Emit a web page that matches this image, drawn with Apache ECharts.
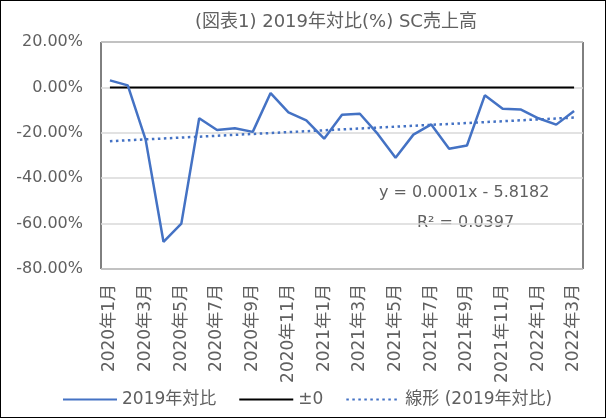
<!DOCTYPE html>
<html>
<head>
<meta charset="utf-8">
<script src="https://cdn.jsdelivr.net/npm/echarts@6/dist/echarts.min.js"></script>
<style>
  body{ margin:0; background:#fff; }
  .wrap{ position:relative; width:606px; height:418px; }
  #chart{ width:606px; height:418px; }
  .frame{ position:absolute; left:0; top:0; width:604px; height:416px; border:1px solid #000; pointer-events:none; }
</style>
</head>
<body>
<div class="wrap">
  <div id="chart"></div>
  <div class="frame"></div>
</div>
<script>
// 2020年1月 .. 2022年3月
var months = [
  '2020年1月','2020年2月','2020年3月','2020年4月','2020年5月','2020年6月','2020年7月','2020年8月','2020年9月',
  '2020年10月','2020年11月','2020年12月','2021年1月','2021年2月','2021年3月','2021年4月','2021年5月','2021年6月',
  '2021年7月','2021年8月','2021年9月','2021年10月','2021年11月','2021年12月','2022年1月','2022年2月','2022年3月'
];
// 2019年対比 (%)
var vs2019 = [3.1, 0.9, -23, -68, -60, -13.6, -18.8, -18, -19.6, -2.5, -11, -14.5, -22.6, -12, -11.6,
  -20.5, -31, -20.8, -16.3, -27, -25.6, -3.5, -9.4, -9.7, -13.6, -16.4, -10.4];
// trend line end points
var trendStart = -23.7;
var trendEnd = -13.3;
var yTicks = { min: -80, max: 20, step: 20 };

var zero = months.map(function () { return 0; });
var trend = months.map(function (m, i) {
  if (i === 0) return trendStart;
  if (i === months.length - 1) return trendEnd;
  return null;
});

var font = '"DejaVu Sans", "Noto Sans CJK JP", sans-serif';
var gray = '#606060';
var blue = '#4472C4';

var chart = echarts.init(document.getElementById('chart'));
chart.setOption({
  animation: false,
  textStyle: { fontFamily: font },
  title: {
    text: '(図表1) 2019年対比(%) SC売上高',
    left: 190,
    top: 8,
    textStyle: { fontFamily: font, fontSize: 18, fontWeight: 'normal', color: gray }
  },
  grid: {
    left: 101, right: 23, top: 42, bottom: 149,
    show: true, borderColor: '#000', borderWidth: 1
  },
  xAxis: {
    type: 'category',
    data: months,
    boundaryGap: true,
    axisLine: { show: false },
    axisTick: { show: false },
    axisLabel: {
      interval: 1, rotate: 90, margin: 15,
      fontFamily: font, fontSize: 17, color: gray
    }
  },
  yAxis: {
    type: 'value',
    min: yTicks.min, max: yTicks.max, interval: yTicks.step,
    axisLine: { show: false },
    axisTick: { show: false },
    splitLine: { lineStyle: { color: '#d9d9d9', width: 1.5 } },
    axisLabel: {
      margin: 18, fontFamily: font, fontSize: 16, color: gray,
      formatter: function (v) { return v.toFixed(2) + '%'; }
    }
  },
  legend: {
    bottom: 5,
    left: 57,
    itemWidth: 54,
    itemHeight: 10,
    itemGap: 22,
    itemStyle: { opacity: 0 },
    textStyle: { fontFamily: font, fontSize: 17, color: gray },
    data: ['2019年対比', '±0', '線形 (2019年対比)']
  },
  series: [
    {
      name: '2019年対比', type: 'line', data: vs2019,
      symbol: 'none', color: blue,
      lineStyle: { color: blue, width: 2.5 }, z: 3
    },
    {
      name: '±0', type: 'line', data: zero,
      symbol: 'none', color: '#000',
      lineStyle: { color: '#000', width: 2 }, z: 2
    },
    {
      name: '線形 (2019年対比)', type: 'line', data: trend,
      connectNulls: true, symbol: 'none', color: blue,
      lineStyle: { color: blue, width: 2.5, type: [2.5, 3.5] }, z: 2
    }
  ],
  graphic: [
    {
      type: 'text', left: 379, top: 185,
      style: { text: 'y = 0.0001x - 5.8182', font: '16px ' + font, fill: gray }
    },
    {
      type: 'text', left: 417, top: 215,
      style: { text: 'R² = 0.0397', font: '16px ' + font, fill: gray }
    }
  ]
});
</script>
</body>
</html>
